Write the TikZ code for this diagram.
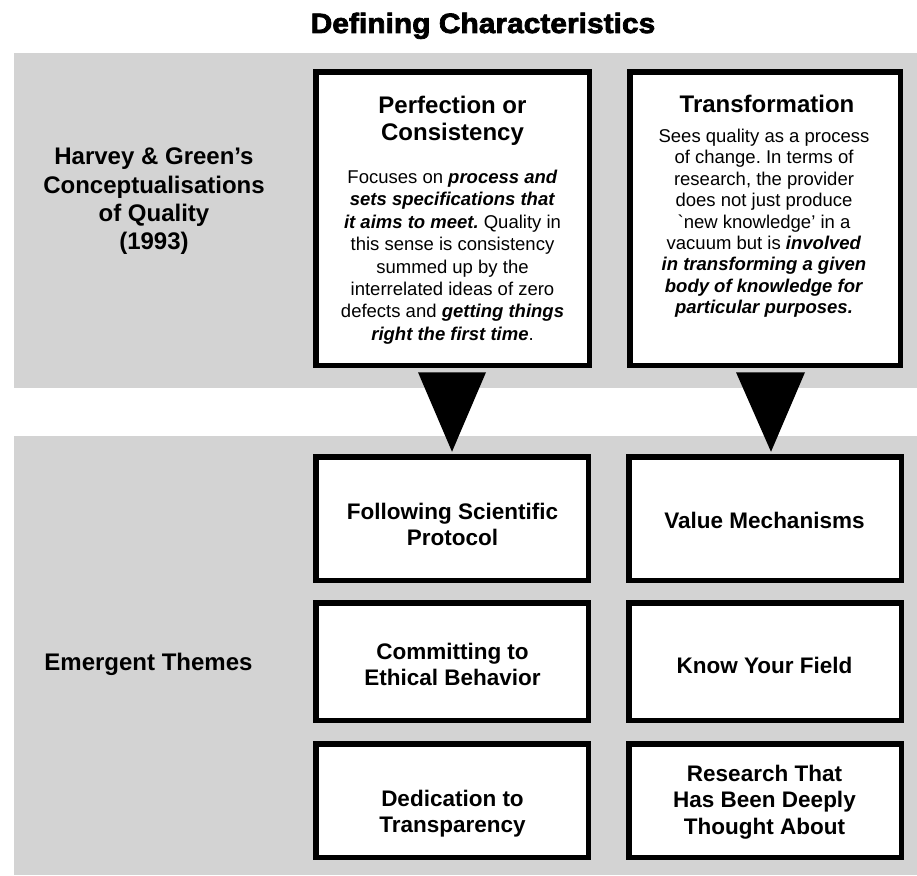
\documentclass[tikz,border=0pt]{standalone}
\usepackage{fontspec}
\usetikzlibrary{calc}
\newfontfamily\lib{Liberation Sans}
\newfontfamily\titlefont{Liberation Sans}[BoldFeatures={FakeBold=2.6,FakeStretch=1.07}]
\newcommand\bitx[1]{\textbf{\textit{#1}}}
\definecolor{panelgrey}{RGB}{211,211,211}
\frenchspacing
\begin{document}
\begin{tikzpicture}[x=1pt,y=-1pt,
  every node/.style={inner sep=0pt, outer sep=0pt},
  card/.style={draw=black, line width=5.5pt, fill=white},
  sidelabel/.style={font=\lib\bfseries\fontsize{24}{28.3}\selectfont, align=center, anchor=north},
  head/.style={font=\lib\bfseries\fontsize{24}{27}\selectfont, align=center, anchor=north},
  body/.style={font=\lib\fontsize{18.5}{22.4}\selectfont, align=center, anchor=north},
  theme/.style={font=\lib\bfseries\fontsize{22.5}{26.5}\selectfont, align=center, anchor=north},
  pointer/.style={fill=black}
]
\useasboundingbox (0,0) rectangle (917,875);
\fill[white] (0,0) rectangle (917,875);

% title
\node[font=\titlefont\bfseries\fontsize{28}{32}\selectfont, anchor=base] (title) at (483,33) {Defining Characteristics};

% grey bands
\fill[panelgrey] (14,53) rectangle (917,388);
\fill[panelgrey] (14,436) rectangle (917,875);

% side labels
\node[sidelabel] (hg) at (154,148) {Harvey \& Green’s\\Conceptualisations\\of Quality\\(1993)};
\node[sidelabel] (emerg) at (148.5,653) {Emergent Themes};

% conceptualisation cards
\node[card, minimum width=273.5pt, minimum height=293.5pt] (perf) at (452.5,218.5) {};
\node[card, minimum width=270.5pt, minimum height=293.5pt] (transf) at (765,218.5) {};

\node[head] (perf-head) at (452.5,96) {Perfection or\\Consistency};
\node[body] (perf-body) at (452.5,170) {Focuses on \bitx{process and}\\
  \bitx{sets specifications that}\\
  \bitx{it aims to meet.} Quality in\\
  this sense is consistency\\
  summed up by the\\
  interrelated ideas of zero\\
  defects and \bitx{getting things}\\
  \bitx{right the first time}.};

\node[head] (transf-head) at (767,95) {Transformation};
\node[body, font=\lib\fontsize{18.5}{21.4}\selectfont] (transf-body) at (764,129) {Sees quality as a process\\
  of change. In terms of\\
  research, the provider\\
  does not just produce\\
  `new knowledge’ in a\\
  vacuum but is \bitx{involved}\\
  \bitx{in transforming a given}\\
  \bitx{body of knowledge for}\\
  \bitx{particular purposes.}};

% emergent theme cards
\node[card, minimum width=272.5pt, minimum height=123.5pt] (follow) at (452,518.5) {};
\node[card, minimum width=272.5pt, minimum height=117.5pt] (ethic) at (452,661.5) {};
\node[card, minimum width=272.5pt, minimum height=113.5pt] (transp) at (452,800.5) {};
\node[card, minimum width=272.5pt, minimum height=123.5pt] (value) at (765,518.5) {};
\node[card, minimum width=272.5pt, minimum height=117.5pt] (field) at (765,661.5) {};
\node[card, minimum width=272.5pt, minimum height=113.5pt] (deep) at (765,800.5) {};

\node[theme] (follow-t) at (452.5,503) {Following Scientific\\Protocol};
\node[theme] (ethic-t) at (452.5,643) {Committing to\\Ethical Behavior};
\node[theme] (transp-t) at (452.5,790) {Dedication to\\Transparency};
\node[theme] (value-t) at (764.5,512) {Value Mechanisms};
\node[theme] (field-t) at (764.5,657) {Know Your Field};
\node[theme] (deep-t) at (764.5,765) {Research That\\Has Been Deeply\\Thought About};

% pointers from each conceptualisation to its themes
\fill[pointer] ($(perf.south)+(-34.5,7)$) -- ($(perf.south)+(33.5,7)$) -- ($(follow.north)+(0,-5)$) -- cycle;
\fill[pointer] ($(transf.south)+(-29,7)$) -- ($(transf.south)+(40,7)$) -- ($(value.north)+(6,-5)$) -- cycle;
\end{tikzpicture}
\end{document}
